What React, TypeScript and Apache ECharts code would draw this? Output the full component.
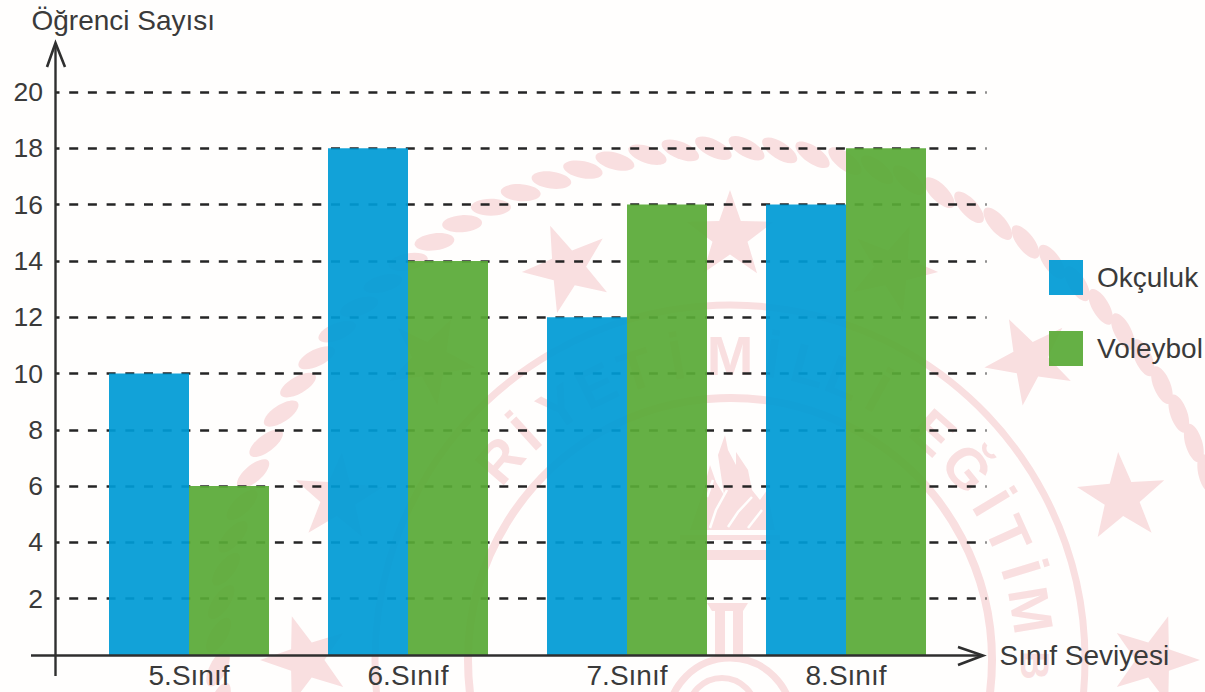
import React, { useEffect, useRef } from "react";
import * as echarts from "echarts";

const categories = ["5.Sınıf", "6.Sınıf", "7.Sınıf", "8.Sınıf"];
const okculuk = [10, 18, 12, 16];
const voleybol = [6, 14, 16, 18];
const yMax = 20;
const yStep = 2;

const FONT = '"Liberation Sans", Arial, sans-serif';
const TEXT = "#3a3a3a";
const PINK = "#f9dfe0";
const CX = 730;
const CY = 660;
const rad = (d: number) => (d * Math.PI) / 180;

function starPoints(cx: number, cy: number, r: number, rotDeg: number) {
  const pts: number[][] = [];
  for (let i = 0; i < 10; i++) {
    const a = rad(rotDeg + i * 36);
    const rr = i % 2 === 0 ? r : r * 0.4;
    pts.push([cx + rr * Math.sin(a), cy - rr * Math.cos(a)]);
  }
  return pts;
}

const sealLetters: [string, number, number][] = [
  ["R", -49, 56], ["İ", -42, 56], ["Y", -34, 56], ["E", -26, 56], ["T", -18, 56], ["İ", -10, 56],
  ["M", 0, 56], ["İ", 8, 56], ["L", 15, 56], ["L", 22, 56], ["İ", 29, 56],
  ["E", 41.7, 56], ["Ğ", 51, 56], ["İ", 59, 56], ["T", 65.8, 56], ["İ", 72.9, 56], ["M", 80.6, 56], ["B", 91, 40],
];

function watermark(): any[] {
  const els: any[] = [];
  const z = -5;
  const beads = 97;
  for (let i = 0; i < beads; i++) {
    const a = (i / beads) * 360 - 180;
    const x = CX + 512 * Math.sin(rad(a));
    const y = CY - 512 * Math.cos(rad(a));
    const slant = 28 - Math.max(0, a) * 0.3;
    els.push({
      type: "ellipse", z, silent: true, x, y, rotation: -rad(a + slant),
      shape: { cx: 0, cy: 0, rx: 20, ry: 8.5 }, style: { fill: PINK },
    });
  }
  for (let i = 0; i < 16; i++) {
    const a = i * 22.5;
    const x = CX + 424 * Math.sin(rad(a));
    const y = CY - 424 * Math.cos(rad(a));
    els.push({
      type: "polygon", z, silent: true,
      shape: { points: starPoints(x, y, 46, a) }, style: { fill: PINK },
    });
  }
  for (const [r, w] of [[355, 7], [262, 8]] as const) {
    els.push({
      type: "circle", z, silent: true, shape: { cx: CX, cy: CY, r },
      style: { fill: "transparent", stroke: PINK, lineWidth: w },
    });
  }
  for (const [ch, a, size] of sealLetters) {
    els.push({
      type: "text", z, silent: true,
      x: CX + 305 * Math.sin(rad(a)), y: CY - 305 * Math.cos(rad(a)),
      rotation: rad(-a),
      style: {
        text: ch, fill: PINK, font: `bold ${size}px ${FONT}`,
        textAlign: "center", textVerticalAlign: "middle",
      },
    });
  }
  // torch
  const silhouette = [[690, 530], [702, 495], [710, 465], [716, 482], [724, 495], [718, 455], [725, 435], [728, 450], [736, 465], [736, 452], [748, 470], [752, 490], [760, 500], [767, 490], [775, 530]];
  const stripes = [
    [[710, 528], [716, 510], [727, 490]],
    [[728, 527], [738, 512], [752, 497]],
    [[748, 528], [762, 510]],
    [[707, 497], [713, 480]],
  ];
  els.push({ type: "polygon", z, silent: true, shape: { points: silhouette }, style: { fill: PINK } });
  for (const pts of stripes) {
    els.push({ type: "polyline", z, silent: true, shape: { points: pts }, style: { stroke: "#fffefd", lineWidth: 2.5, fill: "none" } });
  }
  els.push(
    { type: "rect", z, silent: true, shape: { x: 680, y: 535, width: 100, height: 5 }, style: { fill: PINK } },
    { type: "rect", z, silent: true, shape: { x: 680, y: 550, width: 100, height: 10 }, style: { fill: PINK } },
    { type: "polygon", z, silent: true, shape: { points: [[707, 603], [748, 603], [743, 611], [712, 611]] }, style: { fill: PINK } },
    { type: "rect", z, silent: true, shape: { x: 715, y: 611, width: 10, height: 46 }, style: { fill: PINK } },
    { type: "rect", z, silent: true, shape: { x: 733, y: 611, width: 10, height: 46 }, style: { fill: PINK } },
    { type: "arc", z, silent: true, shape: { cx: 730, cy: 720, r: 62, startAngle: Math.PI, endAngle: 2 * Math.PI }, style: { fill: "transparent", stroke: PINK, lineWidth: 7 } },
    { type: "arc", z, silent: true, shape: { cx: 722, cy: 712, r: 34, startAngle: Math.PI, endAngle: 2 * Math.PI }, style: { fill: "transparent", stroke: PINK, lineWidth: 6 } },
  );
  return els;
}

function axisDecor(): any[] {
  const stroke = "#2f2f2f";
  const base = { z: 50, silent: true };
  return [
    { ...base, type: "line", shape: { x1: 55.5, y1: 44, x2: 55.5, y2: 676 }, style: { stroke, lineWidth: 2.4 } },
    { ...base, type: "line", shape: { x1: 31, y1: 655.5, x2: 982, y2: 655.5 }, style: { stroke, lineWidth: 2.4 } },
    { ...base, type: "polyline", shape: { points: [[47, 67], [55.5, 43], [65, 67]] }, style: { stroke, lineWidth: 2.6, fill: "none" } },
    { ...base, type: "polyline", shape: { points: [[958, 647], [983, 655.5], [958, 665]] }, style: { stroke, lineWidth: 2.6, fill: "none" } },
  ];
}

export default function App() {
  const ref = useRef<HTMLDivElement>(null);
  useEffect(() => {
    const chart = echarts.init(ref.current!, undefined, { renderer: "svg" });
    chart.setOption({
      animation: false,
      backgroundColor: "#fffefd",
      textStyle: { fontFamily: FONT },
      grid: [
        { left: 55.5, top: 92, width: 931, height: 563 },
        { left: 79.5, top: 92, width: 876, height: 563 },
      ],
      legend: {
        orient: "vertical",
        left: 1049,
        top: 260,
        padding: 0,
        itemWidth: 34,
        itemHeight: 35,
        itemGap: 36,
        icon: "rect",
        selectedMode: false,
        textStyle: { color: TEXT, fontSize: 28, fontFamily: FONT, padding: [0, 0, 0, 9] },
        data: ["Okçuluk", "Voleybol"],
      },
      xAxis: [
        { gridIndex: 0, type: "value", min: 0, max: 1, show: false },
        {
          gridIndex: 1,
          type: "category",
          data: categories,
          axisLine: { show: false },
          axisTick: { show: false },
          axisLabel: { color: TEXT, fontSize: 28, fontFamily: FONT, margin: 6 },
          name: "Sınıf Seviyesi",
          nameLocation: "end",
          nameGap: 44,
          nameTextStyle: { color: TEXT, fontSize: 28, fontFamily: FONT, verticalAlign: "middle" },
        },
      ],
      yAxis: [
        {
          gridIndex: 0,
          type: "value",
          min: 0,
          max: yMax,
          interval: yStep,
          axisLine: { show: false },
          axisTick: { show: false },
          axisLabel: {
            color: TEXT, fontSize: 26.5, fontFamily: FONT, margin: 12.5,
            formatter: (v: number) => (v === 0 ? "" : String(v)),
          },
          splitLine: {
            show: true,
            showMinLine: false,
            lineStyle: { color: "#252525", width: 2.6, type: [9, 9.7], dashOffset: 5.4 },
          },
          name: "Öğrenci Sayısı",
          nameLocation: "end",
          nameGap: 58,
          nameTextStyle: { color: TEXT, fontSize: 28, fontFamily: FONT, align: "left", padding: [0, 0, 0, -24] },
        },
        { gridIndex: 1, type: "value", min: 0, max: yMax, interval: yStep, show: false },
      ],
      series: [
        {
          name: "Okçuluk", type: "bar", xAxisIndex: 1, yAxisIndex: 1, data: okculuk,
          barWidth: 80, barGap: 0, itemStyle: { color: "#009bd5", opacity: 0.93 },
        },
        {
          name: "Voleybol", type: "bar", xAxisIndex: 1, yAxisIndex: 1, data: voleybol,
          barWidth: 80, barGap: 0, itemStyle: { color: "#59aa37", opacity: 0.93 },
        },
      ],
      graphic: { elements: [...watermark(), ...axisDecor()] },
    });
    return () => chart.dispose();
  }, []);
  return <div ref={ref} style={{ position: "absolute", left: 0, top: 0, width: 1205, height: 692 }} />;
}
